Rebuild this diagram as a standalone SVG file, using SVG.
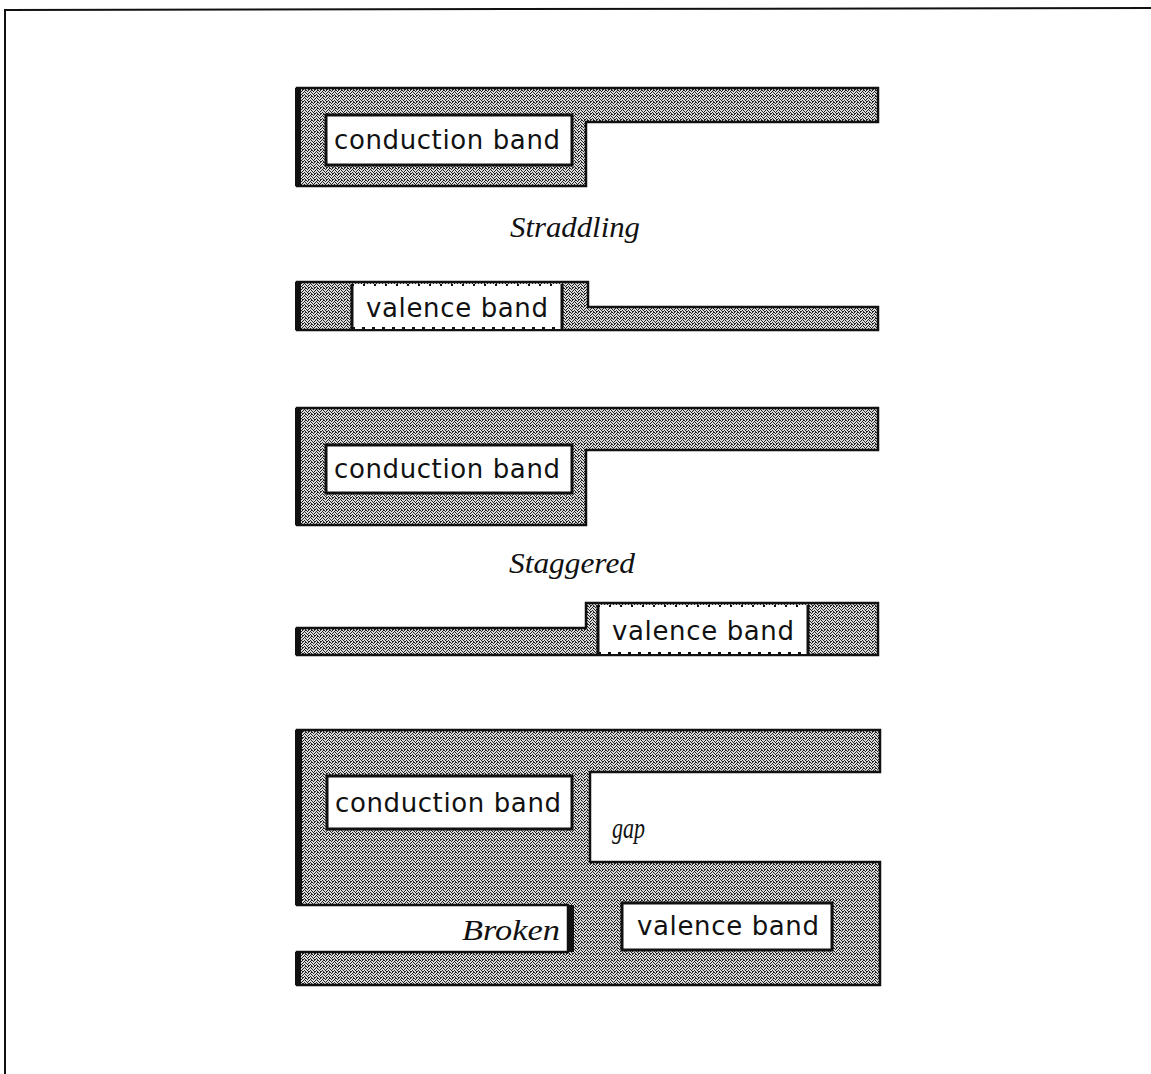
<svg xmlns="http://www.w3.org/2000/svg" width="1151" height="1074" viewBox="0 0 1151 1074">
<defs>
<pattern id="stip" width="6" height="6" patternUnits="userSpaceOnUse">
<rect width="6" height="6" fill="#dcdcdc"/>
<rect x="0" y="0" width="1" height="1" fill="#222"/>
<rect x="2" y="0" width="1" height="1" fill="#222"/>
<rect x="4" y="1" width="1" height="1" fill="#222"/>
<rect x="1" y="1" width="1" height="1" fill="#222"/>
<rect x="3" y="2" width="1" height="1" fill="#222"/>
<rect x="5" y="2" width="1" height="1" fill="#222"/>
<rect x="0" y="3" width="1" height="1" fill="#222"/>
<rect x="2" y="3" width="1" height="1" fill="#222"/>
<rect x="4" y="4" width="1" height="1" fill="#222"/>
<rect x="1" y="4" width="1" height="1" fill="#222"/>
<rect x="3" y="5" width="1" height="1" fill="#222"/>
<rect x="5" y="5" width="1" height="1" fill="#222"/>
<rect x="5" y="0" width="1" height="1" fill="#222"/>
<rect x="2" y="5" width="1" height="1" fill="#222"/>
</pattern>
</defs>
<style>
.band{fill:url(#stip);stroke:#111;stroke-width:2.5}
.edge{fill:#111}
.box{fill:#fff;stroke:#111;stroke-width:3}
.lbl{font-family:"DejaVu Sans","Liberation Sans",sans-serif;font-size:26px;fill:#111}
.it{font-family:"Liberation Serif","Times New Roman",serif;font-style:italic;font-size:30px;fill:#111}
.frame{stroke:#111;stroke-width:2;fill:none}
</style>
<g id="frame">
<path class="frame" d="M4,10 L1151,8 M5,10 L5,1074"/>
</g>
<g id="straddling-conduction">
<path class="band" d="M297,88 L878,88 L878,122 L586,122 L586,186 L297,186 Z"/>
<rect class="edge" x="295" y="88" width="6" height="98"/>
<rect class="box" x="326" y="115" width="246" height="50"/>
<text class="lbl" x="334" y="149" textLength="226" lengthAdjust="spacing">conduction band</text>
</g>
<g id="straddling-label">
<text class="it" x="510" y="237" textLength="130" lengthAdjust="spacingAndGlyphs">Straddling</text>
</g>
<g id="straddling-valence">
<path class="band" d="M297,282 L588,282 L588,307 L878,307 L878,330 L297,330 Z"/>
<rect class="edge" x="295" y="282" width="6" height="48"/>
<rect x="352" y="284" width="210" height="45" fill="#fff"/>
<line x1="352" y1="284" x2="352" y2="329" stroke="#111" stroke-width="3"/>
<line x1="562" y1="284" x2="562" y2="329" stroke="#111" stroke-width="3"/>
<line x1="352" y1="285" x2="562" y2="285" stroke="#111" stroke-width="2" stroke-dasharray="2 9"/>
<line x1="352" y1="328" x2="562" y2="328" stroke="#111" stroke-width="2" stroke-dasharray="3 7"/>
<text class="lbl" x="366" y="317" textLength="182" lengthAdjust="spacing">valence band</text>
</g>
<g id="staggered-conduction">
<path class="band" d="M297,408 L878,408 L878,450 L586,450 L586,525 L297,525 Z"/>
<rect class="edge" x="295" y="408" width="6" height="117"/>
<rect class="box" x="326" y="445" width="246" height="48"/>
<text class="lbl" x="334" y="478" textLength="226" lengthAdjust="spacing">conduction band</text>
</g>
<g id="staggered-label">
<text class="it" x="509" y="573" textLength="126" lengthAdjust="spacingAndGlyphs">Staggered</text>
</g>
<g id="staggered-valence">
<path class="band" d="M297,628 L586,628 L586,603 L878,603 L878,655 L297,655 Z"/>
<rect class="edge" x="295" y="628" width="6" height="27"/>
<rect x="598" y="605" width="210" height="49" fill="#fff"/>
<line x1="598" y1="605" x2="598" y2="654" stroke="#111" stroke-width="3"/>
<line x1="808" y1="605" x2="808" y2="654" stroke="#111" stroke-width="3"/>
<line x1="598" y1="606" x2="808" y2="606" stroke="#111" stroke-width="2" stroke-dasharray="2 9"/>
<line x1="598" y1="653" x2="808" y2="653" stroke="#111" stroke-width="2" stroke-dasharray="3 7"/>
<text class="lbl" x="612" y="640" textLength="182" lengthAdjust="spacing">valence band</text>
</g>
<g id="broken">
<path class="band" d="M297,730 L880,730 L880,772 L590,772 L590,862 L880,862 L880,985 L297,985 L297,952 L568,952 L568,905 L297,905 Z"/>
<rect class="edge" x="295" y="730" width="7" height="175"/>
<rect class="edge" x="295" y="952" width="6" height="33"/>
<rect class="edge" x="567" y="905" width="7" height="47"/>
<rect class="box" x="327" y="776" width="245" height="53"/>
<text class="lbl" x="335" y="812" textLength="226" lengthAdjust="spacing">conduction band</text>
<rect class="box" x="622" y="903" width="210" height="47"/>
<text class="lbl" x="637" y="935" textLength="182" lengthAdjust="spacing">valence band</text>
<text class="it" x="612" y="838" font-size="28" textLength="33" lengthAdjust="spacingAndGlyphs">gap</text>
<text class="it" x="462" y="940" textLength="98" lengthAdjust="spacingAndGlyphs">Broken</text>
</g>
</svg>
